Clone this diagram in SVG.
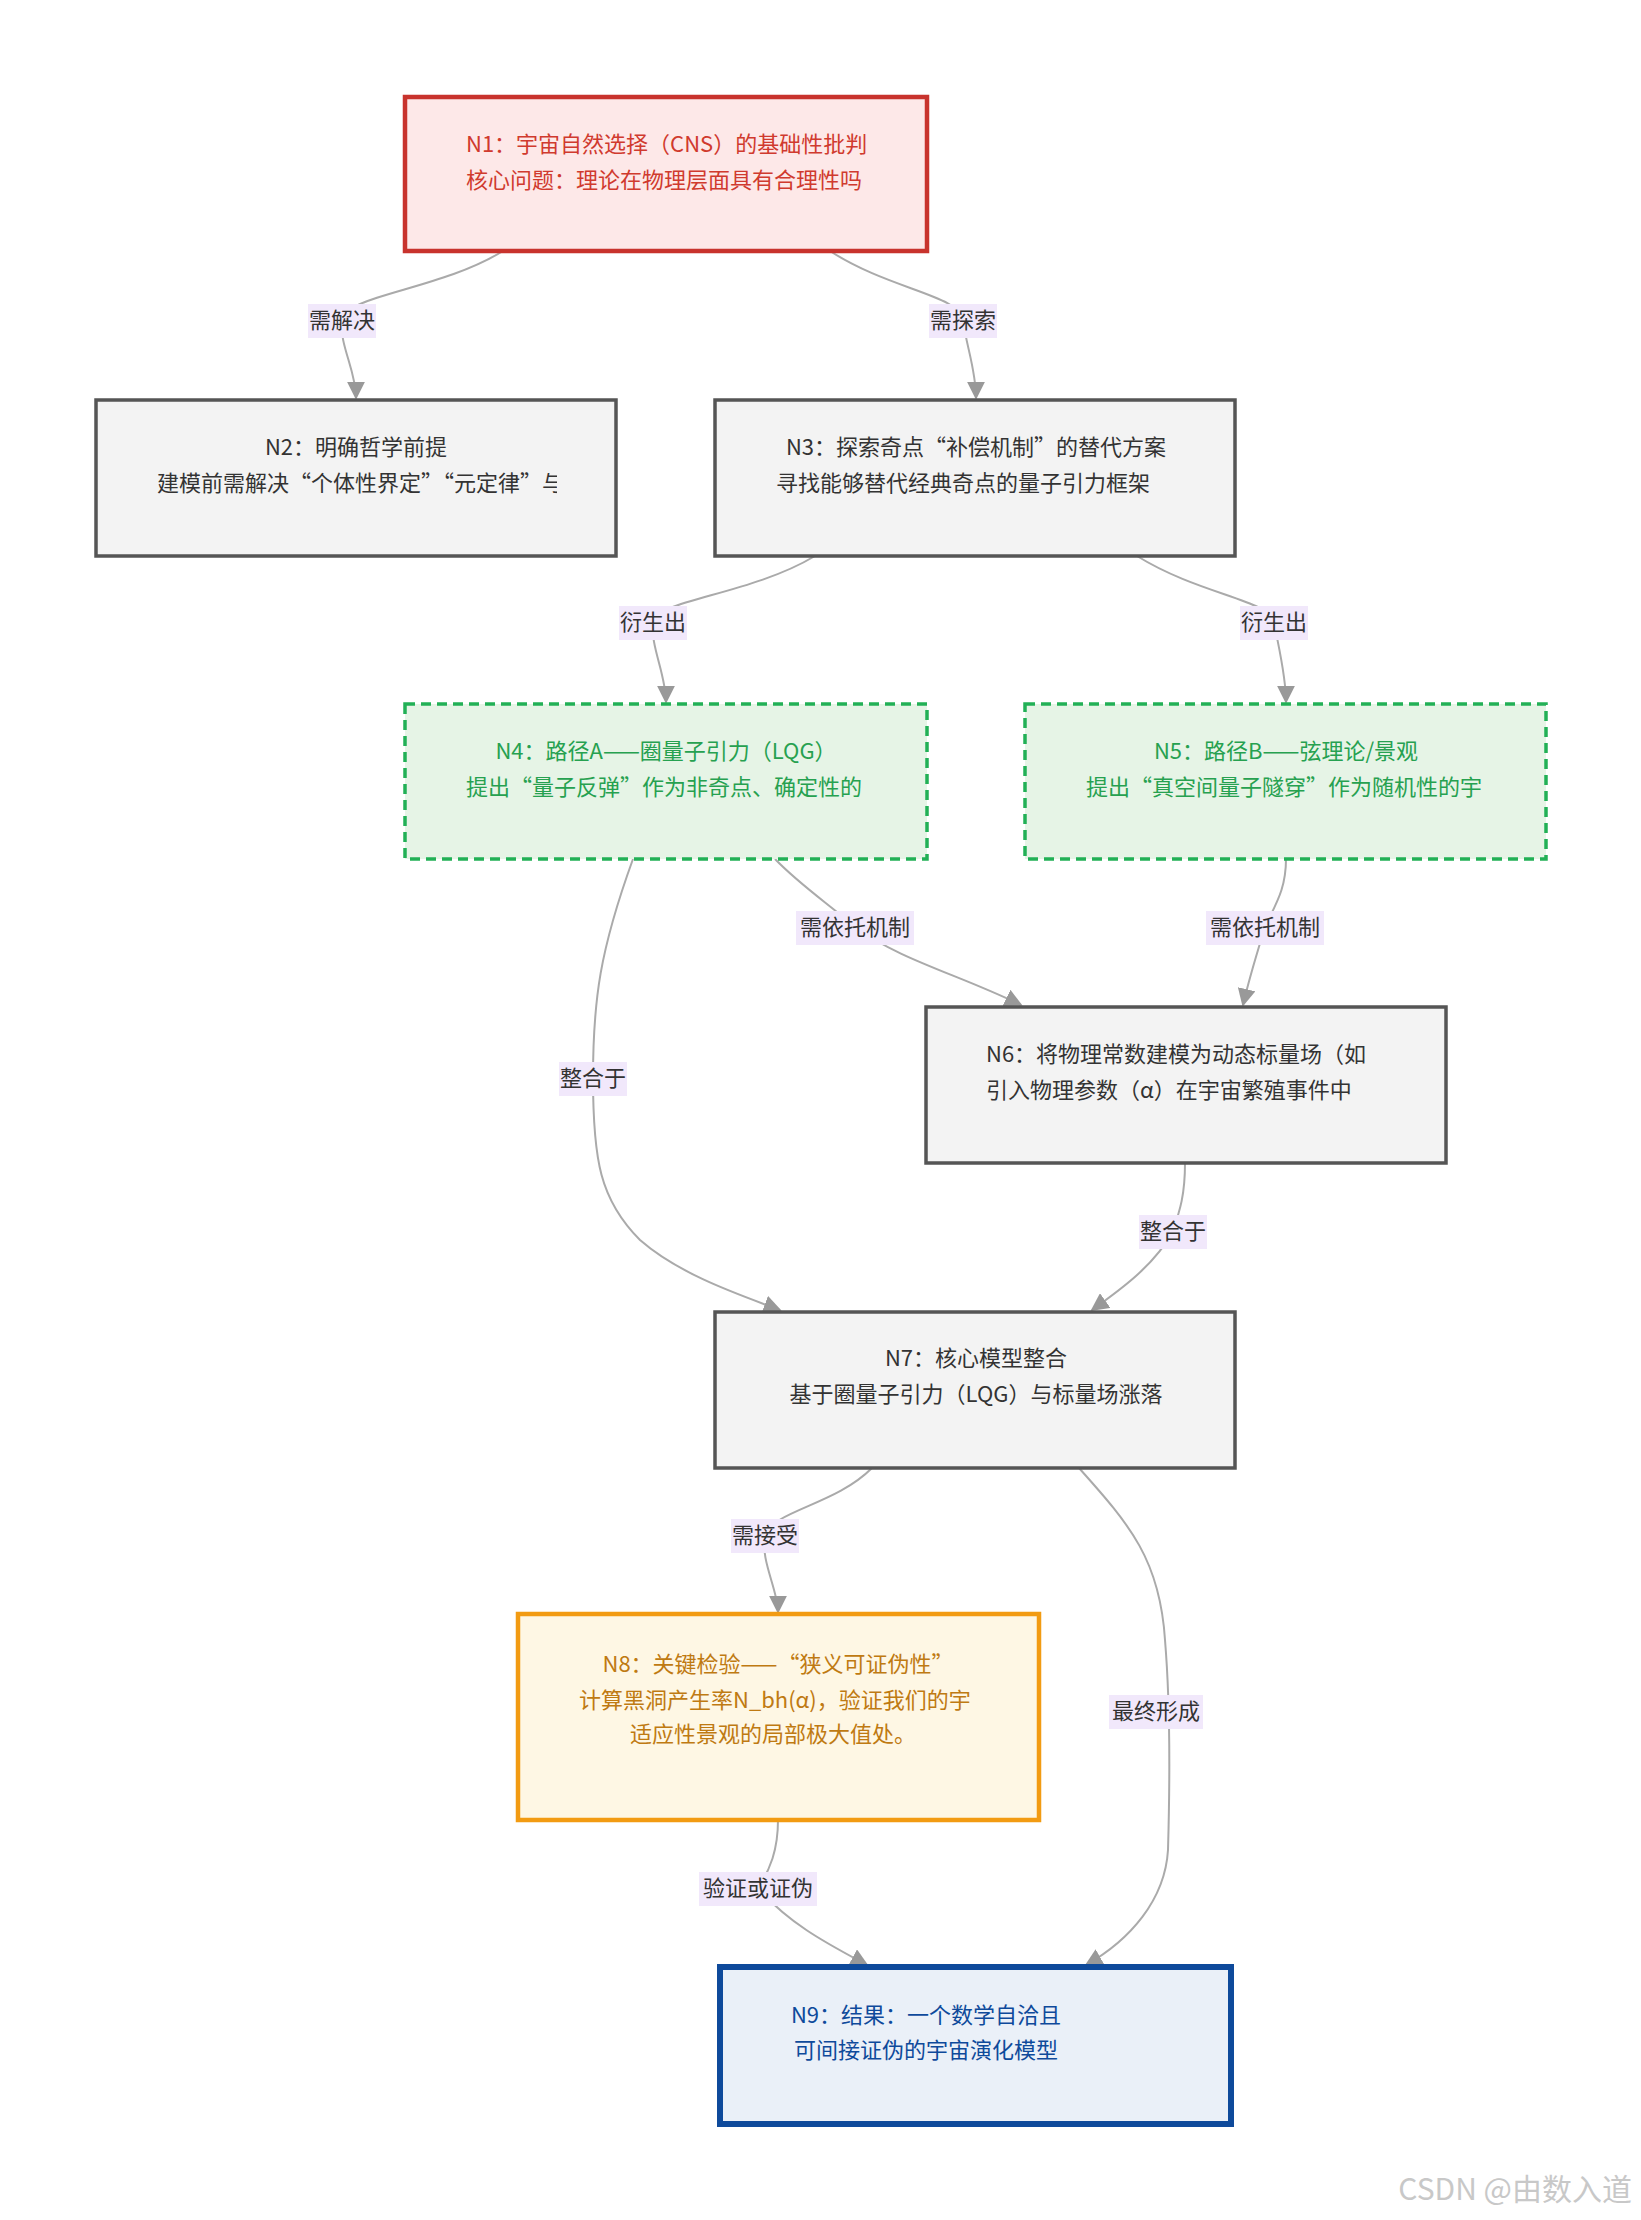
<svg xmlns="http://www.w3.org/2000/svg" width="1641" height="2220" viewBox="0 0 1641 2220">
<style>
text{font-family:"Noto Sans CJK SC","Noto Sans",sans-serif;font-size:22px}
.e{fill:none;stroke:#aaa;stroke-width:2}
.lb{fill:#f1e8fb}
.lt{fill:#333;text-anchor:middle}
.g{fill:#f3f3f3;stroke:#555;stroke-width:3.5}
.gt{fill:#333}
.m{text-anchor:middle}
</style>
<defs>
<marker id="a" viewBox="0 0 10 10" refX="9" refY="5" markerWidth="9" markerHeight="9" orient="auto-start-reverse"><path d="M0,0L10,5L0,10z" fill="#999"/></marker>
<clipPath id="c1"><rect x="466" y="110" width="400" height="100"/></clipPath>
<clipPath id="c2"><rect x="157" y="410" width="400" height="100"/></clipPath>
<clipPath id="c3"><rect x="776" y="410" width="400" height="100"/></clipPath>
<clipPath id="c4"><rect x="466" y="715" width="400" height="100"/></clipPath>
<clipPath id="c5"><rect x="1086" y="715" width="400" height="100"/></clipPath>
<clipPath id="c6"><rect x="986" y="1020" width="400" height="100"/></clipPath>
<clipPath id="c8"><rect x="579" y="1630" width="400" height="130"/></clipPath>
</defs>
<g id="edges">
<path class="e" marker-end="url(#a)" d="M503,251 C440,290 345,295 342,320 C339,345 356,370 356,398"/>
<path class="e" marker-end="url(#a)" d="M830,251 C890,290 960,295 963,320 C966,345 976,370 976,398"/>
<path class="e" marker-end="url(#a)" d="M815,556 C750,595 656,600 653,622 C650,645 666,675 666,702"/>
<path class="e" marker-end="url(#a)" d="M1137,556 C1200,595 1270,600 1274,622 C1278,645 1286,675 1286,702"/>
<path class="e" marker-end="url(#a)" d="M775,859 C800,885 830,905 855,927 C900,960 960,975 1021,1005"/>
<path class="e" marker-end="url(#a)" d="M1286,859 C1286,890 1275,905 1265,927 C1258,950 1250,975 1243,1005"/>
<path class="e" marker-end="url(#a)" d="M633,859 C600,950 593,1000 593,1078 C593,1160 600,1200 640,1240 C680,1275 740,1295 780,1310"/>
<path class="e" marker-end="url(#a)" d="M1185,1163 C1185,1195 1180,1210 1173,1231 C1155,1265 1120,1290 1092,1310"/>
<path class="e" marker-end="url(#a)" d="M872,1468 C835,1505 775,1510 765,1535 C760,1560 778,1590 778,1612"/>
<path class="e" marker-end="url(#a)" d="M1079,1468 C1130,1525 1160,1560 1165,1640 C1170,1700 1170,1780 1168,1850 C1165,1900 1130,1940 1086,1965"/>
<path class="e" marker-end="url(#a)" d="M778,1820 C778,1850 770,1870 758,1888 C790,1925 830,1945 867,1965"/>
<rect class="lb" x="308" y="304" width="68" height="34"/><text class="lt" x="342" y="328">需解决</text>
<rect class="lb" x="929" y="304" width="68" height="34"/><text class="lt" x="963" y="328">需探索</text>
<rect class="lb" x="619" y="606" width="68" height="34"/><text class="lt" x="653" y="630">衍生出</text>
<rect class="lb" x="1240" y="606" width="68" height="34"/><text class="lt" x="1274" y="630">衍生出</text>
<rect class="lb" x="796" y="911" width="118" height="34"/><text class="lt" x="855" y="935">需依托机制</text>
<rect class="lb" x="1206" y="911" width="118" height="34"/><text class="lt" x="1265" y="935">需依托机制</text>
<rect class="lb" x="559" y="1062" width="68" height="34"/><text class="lt" x="593" y="1086">整合于</text>
<rect class="lb" x="1139" y="1215" width="68" height="34"/><text class="lt" x="1173" y="1239">整合于</text>
<rect class="lb" x="731" y="1519" width="68" height="34"/><text class="lt" x="765" y="1543">需接受</text>
<rect class="lb" x="1109" y="1695" width="94" height="34"/><text class="lt" x="1156" y="1719">最终形成</text>
<rect class="lb" x="699" y="1872" width="118" height="34"/><text class="lt" x="758" y="1896">验证或证伪</text>
</g>
<g id="N1">
<rect x="405" y="97" width="522" height="154" fill="#fde8e8" stroke="#c8332d" stroke-width="4.5"/>
<g clip-path="url(#c1)" fill="#d03a2e"><text x="466" y="152">N1：宇宙自然选择（CNS）的基础性批判</text><text x="466" y="188">核心问题：理论在物理层面具有合理性吗</text></g>
</g>
<g id="N2">
<rect class="g" x="96" y="400" width="520" height="156"/>
<g clip-path="url(#c2)" class="gt"><text class="m" x="356" y="455">N2：明确哲学前提</text><text x="157" y="491">建模前需解决“个体性界定”“元定律”与</text></g>
</g>
<g id="N3">
<rect class="g" x="715" y="400" width="520" height="156"/>
<g clip-path="url(#c3)" class="gt"><text class="m" x="976" y="455">N3：探索奇点“补偿机制”的替代方案</text><text x="776" y="491">寻找能够替代经典奇点的量子引力框架</text></g>
</g>
<g id="N4">
<rect x="405" y="704" width="522" height="155" fill="#e6f4e6" stroke="#22b056" stroke-width="3.5" stroke-dasharray="10,6"/>
<g clip-path="url(#c4)" fill="#26a150"><text class="m" x="666" y="759">N4：路径A——圈量子引力（LQG）</text><text x="466" y="795">提出“量子反弹”作为非奇点、确定性的</text></g>
</g>
<g id="N5">
<rect x="1025" y="704" width="521" height="155" fill="#e6f4e6" stroke="#22b056" stroke-width="3.5" stroke-dasharray="10,6"/>
<g clip-path="url(#c5)" fill="#26a150"><text class="m" x="1286" y="759">N5：路径B——弦理论/景观</text><text x="1086" y="795">提出“真空间量子隧穿”作为随机性的宇</text></g>
</g>
<g id="N6">
<rect class="g" x="926" y="1007" width="520" height="156"/>
<g clip-path="url(#c6)" class="gt"><text x="986" y="1062">N6：将物理常数建模为动态标量场（如</text><text x="986" y="1098">引入物理参数（α）在宇宙繁殖事件中</text></g>
</g>
<g id="N7">
<rect class="g" x="715" y="1312" width="520" height="156"/>
<text class="gt m" x="976" y="1366">N7：核心模型整合</text><text class="gt m" x="976" y="1402">基于圈量子引力（LQG）与标量场涨落</text>
</g>
<g id="N8">
<rect x="518" y="1614" width="521" height="206" fill="#fef7e4" stroke="#f29b12" stroke-width="4.5"/>
<g clip-path="url(#c8)" fill="#bf7a12"><text class="m" x="778" y="1672">N8：关键检验——“狭义可证伪性”</text><text x="579" y="1708">计算黑洞产生率N_bh(α)，验证我们的宇</text><text class="m" x="773" y="1742">适应性景观的局部极大值处。</text></g>
</g>
<g id="N9">
<rect x="720" y="1967" width="511" height="157" fill="#eaf0f8" stroke="#0e4a9b" stroke-width="6"/>
<text fill="#0e4a9b" class="m" x="926" y="1923" dy="0"/>
<text fill="#0e4a9b" class="m" x="926" y="2023">N9：结果：一个数学自洽且</text><text fill="#0e4a9b" class="m" x="926" y="2058">可间接证伪的宇宙演化模型</text>
</g>
<text x="1632" y="2200" fill="#c8c8c8" style="font-size:30px;text-anchor:end">CSDN @由数入道</text>
</svg>
